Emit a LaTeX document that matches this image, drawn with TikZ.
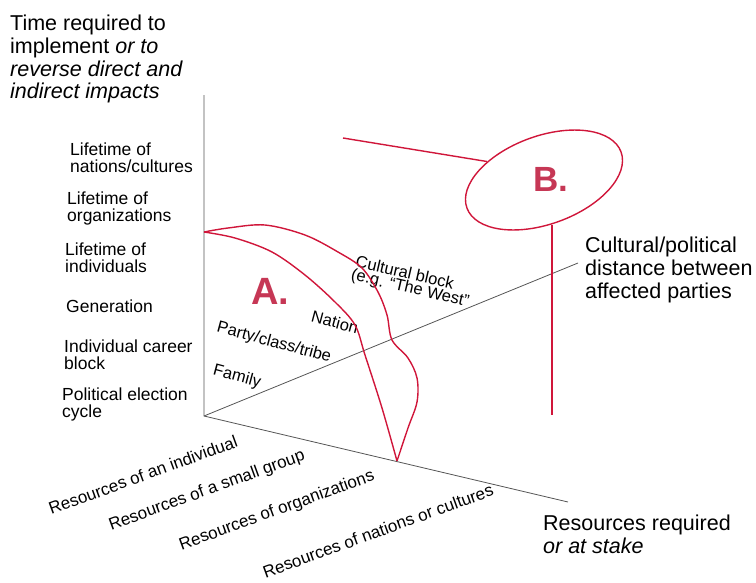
\documentclass[tikz,border=0pt]{standalone}
\usepackage{fontspec}
\setmainfont{Liberation Sans}
\usetikzlibrary{shapes.geometric}
\definecolor{axisgray}{RGB}{85,85,85}
\definecolor{curvered}{RGB}{208,22,58}
\definecolor{lettercol}{RGB}{198,55,85}
\begin{document}
\begin{tikzpicture}[x=1pt,y=-1pt,
  axis/.style={draw=axisgray,line width=0.8pt},
  redline/.style={draw=curvered,line width=1.4pt},
  big/.style={font=\fontsize{21.5}{22.7}\selectfont, align=left, inner sep=0, anchor=north west},
  side/.style={font=\fontsize{17.5}{16.8}\selectfont, align=left, inner sep=0, anchor=north west},
  inlbl/.style={font=\fontsize{16.5}{17}\selectfont, inner sep=0},
  reslbl/.style={font=\fontsize{17}{17}\selectfont, inner sep=0, rotate=20},
  letter/.style={font=\fontsize{38}{38}\selectfont\bfseries, text=lettercol, inner sep=0}]
\useasboundingbox (0,0) rectangle (756,582);

% axes
\coordinate (O) at (204,416);
\coordinate (Ytop) at (204,95);
\coordinate (Zend) at (578,263);
\coordinate (Xend) at (568,502);
\draw[axis] (Ytop) -- (O) -- (Xend);
\draw[axis] (O) -- (Zend);

% axis titles
\node[big] (ttime) at (10,15) {Time required to\\implement \textit{or to}\\\textit{reverse direct and}\\\textit{indirect impacts}};
\node[big] (tdist) at (585,237) {Cultural/political\\distance between\\affected parties};
\node[big] (tres) at (543,515) {Resources required\\\textit{or at stake}};

% time labels
\node[side] (l1) at (70,143) {Lifetime of\\nations/cultures};
\node[side] (l2) at (67,192) {Lifetime of\\organizations};
\node[side] (l3) at (65,243) {Lifetime of\\individuals};
\node[side] (l4) at (66,300) {Generation};
\node[side] (l5) at (64,340) {Individual career\\block};
\node[side] (l6) at (62,388) {Political election\\cycle};

% resource labels
\node[reslbl] (r1) at (143,475) {Resources of an individual};
\node[reslbl] (r2) at (207,491) {Resources of a small group};
\node[reslbl] (r3) at (277,511) {Resources of organizations};
\node[reslbl] (r4) at (378,531) {Resources of nations or cultures};

% distance labels
\node[inlbl, rotate=-15] (dfam) at (237,377) {Family};
\node[inlbl, rotate=-15] (dparty) at (274,343) {Party/class/tribe};
\node[inlbl, rotate=-15] (dnat) at (335,322) {Nation};
\node[inlbl, rotate=-13] (dcult) at (405,272) {Cultural block};
\node[inlbl, rotate=-13] (dwest) at (410,289) {(e.g. “The West”};

% region A
\draw[redline] plot[smooth, tension=0.55] coordinates {(204,232) (228,228) (265,225) (305,235) (338,252) (362,268) (378,292) (387,315) (392,340) (408,358) (417,378) (417,402) (408,428) (397,461)};
\draw[redline] plot[smooth, tension=0.55] coordinates {(204,232) (235,238) (272,252) (305,275) (335,302) (355,325) (365,355) (382,408) (397,461)};
\node[letter] (A) at (270,291) {A.};

% region B
\node[ellipse, draw=curvered, line width=1.4pt, minimum width=164pt, minimum height=88pt, inner sep=0, rotate=20] (ellB) at (544,180) {};
\node[letter, font=\fontsize{35}{35}\selectfont\bfseries] (B) at (551,179) {B.};
\coordinate (Bstart) at (343,138);
\coordinate (Bfoot) at (552,415);
\draw[redline] (Bstart) -- (ellB.142);
\draw[redline, line width=1.8pt] (ellB.260) -- (ellB.260 |- Bfoot);
\end{tikzpicture}
\end{document}
